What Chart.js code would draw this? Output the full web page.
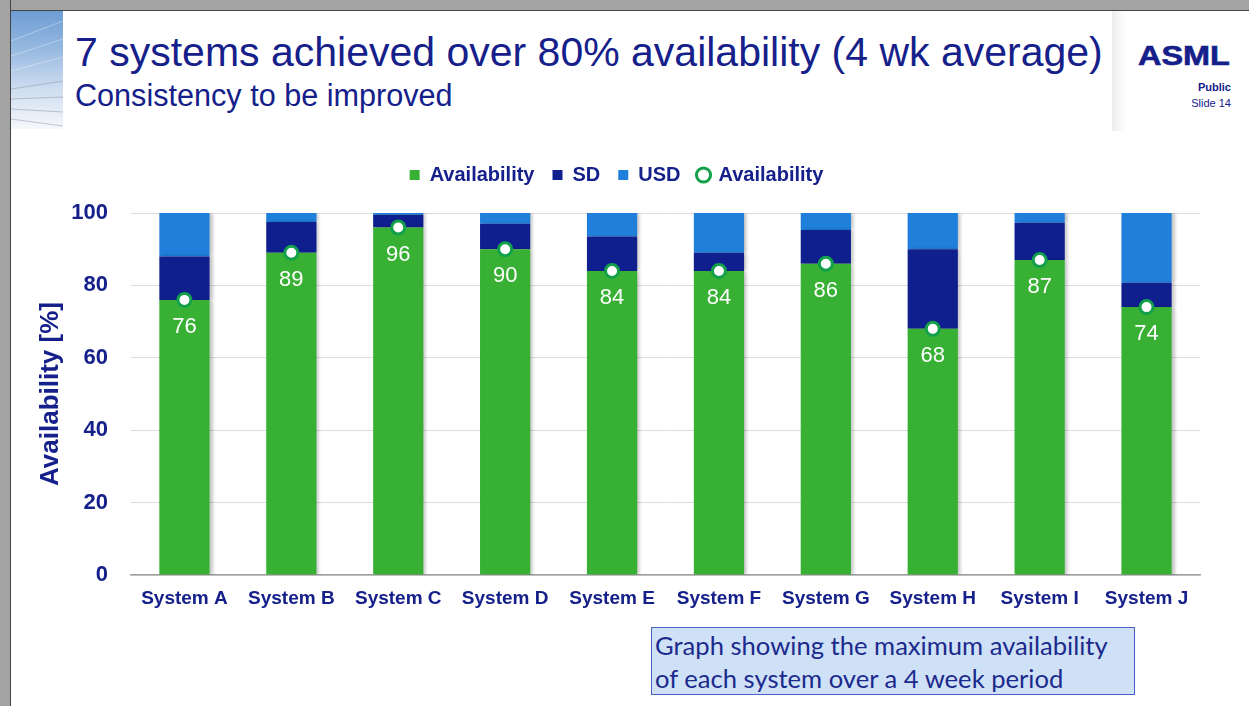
<!DOCTYPE html>
<html>
<head>
<meta charset="utf-8">
<script src="https://cdn.jsdelivr.net/npm/chart.js@4"></script>
<style>
  html, body { margin: 0; padding: 0; background: #fff; }
  body { width: 1249px; height: 706px; position: relative; overflow: hidden; font-family: "Liberation Sans", Arial, sans-serif; }
  #frameTop { position: absolute; left: 0; top: 0; width: 1249px; height: 10px; background: #a3a3a3; border-bottom: 1px solid #444; }
  #frameLeft { position: absolute; left: 0; top: 0; width: 10px; height: 706px; background: #a3a3a3; border-right: 1px solid #444; }
  #deco { position: absolute; left: 11px; top: 11px; width: 52px; height: 118px;
    background: linear-gradient(to bottom, #6e9dd3 0%, #93b7e0 30%, #cddcef 65%, #f6f8fb 100%); }
  #shade { position: absolute; left: 1112px; top: 11px; width: 14px; height: 120px;
    background: linear-gradient(to right, rgba(0,0,0,0.07), rgba(0,0,0,0)); }
  .title { position: absolute; left: 75px; color: #15208a; white-space: nowrap; line-height: 1; }
  #t1 { top: 32px; font-size: 41px; }
  #t2 { top: 80px; font-size: 30.6px; }
  #logo { position: absolute; left: 1138px; top: 43px; font-size: 27px; font-weight: bold; color: #15208a;
    line-height: 1; transform: scaleX(1.2); transform-origin: left top; -webkit-text-stroke: 0.6px #15208a; }
  .tag { position: absolute; right: 18px; font-size: 11px; color: #15208a; line-height: 1; }
  #pub { top: 82px; font-weight: bold; }
  #slide { top: 98px; }
  #wrap { position: absolute; left: 11px; top: 144px; width: 1238px; height: 476px; }
  #note { position: absolute; left: 651px; top: 627px; width: 479px; height: 65px;
    background: #cfe1f7; border: 1.5px solid #4a62c2; color: #1b2a8c;
    font-family: Lato, "Noto Sans", sans-serif; font-size: 25.6px; line-height: 33px; padding: 1px 0 0 3px; white-space: nowrap; }
</style>
</head>
<body>
<div id="frameTop"></div>
<div id="frameLeft"></div>
<div id="deco">
  <svg width="52" height="118">
    <g stroke="#ffffff" stroke-opacity="0.35" stroke-width="1" fill="none">
      <path d="M0 30 L52 10"/><path d="M0 45 L52 28"/><path d="M0 60 L52 46"/>
    </g>
    <g stroke="#8a96a8" stroke-opacity="0.5" stroke-width="1" fill="none">
      <path d="M0 78 L52 70"/><path d="M0 88 L52 86"/><path d="M0 98 L52 101"/><path d="M0 108 L52 115"/>
    </g>
  </svg>
</div>
<div id="shade"></div>
<div class="title" id="t1">7 systems achieved over 80% availability (4 wk average)</div>
<div class="title" id="t2">Consistency to be improved</div>
<div id="logo">ASML</div>
<div class="tag" id="pub">Public</div>
<div class="tag" id="slide">Slide 14</div>
<div id="wrap"><canvas id="chart"></canvas></div>
<div id="note">Graph showing the maximum availability<br>of each system over a 4 week period</div>

<script>
const systems = ["System A", "System B", "System C", "System D", "System E",
                 "System F", "System G", "System H", "System I", "System J"];
const availability = [76, 89, 96, 90, 84, 84, 86, 68, 87, 74];
const sd = [12, 8.5, 3.5, 7, 9.5, 5, 9.3, 22, 10.3, 6.7];
const usd = [12, 2.5, 0.5, 3, 6.5, 11, 4.7, 10, 2.7, 19.3];
const yTicks = [0, 20, 40, 60, 80, 100];

const navy = "#15208a";
const legendStyles = ["rect", "rect", "rect", "circle"];

// soft shadow on the right side of the bars
const barShadow = {
  id: "barShadow",
  beforeDatasetDraw(chart, args) {
    if (args.meta.type !== "bar") return;
    const ctx = chart.ctx;
    ctx.save();
    ctx.shadowColor = "rgba(0,0,0,0.22)";
    ctx.shadowOffsetX = 3;
    ctx.shadowBlur = 3;
  },
  afterDatasetDraw(chart, args) {
    if (args.meta.type === "bar") chart.ctx.restore();
  }
};

// white value labels under the markers
const valueLabels = {
  id: "valueLabels",
  afterDatasetsDraw(chart) {
    const ctx = chart.ctx;
    const meta = chart.getDatasetMeta(3);
    ctx.save();
    ctx.fillStyle = "#ffffff";
    ctx.font = "22px 'Liberation Sans', Arial, sans-serif";
    ctx.textAlign = "center";
    ctx.textBaseline = "middle";
    meta.data.forEach((pt, i) => {
      ctx.fillText(String(availability[i]), pt.x, pt.y + 27);
    });
    ctx.restore();
  }
};

// fixed legend height, legend nudged a little
const legendTweak = {
  id: "legendTweak",
  beforeInit(chart) {
    const lg = chart.legend;
    const fit = lg.fit;
    lg.fit = function () {
      fit.call(lg);
      this.height = 69;
    };
    const draw = lg.draw;
    lg.draw = function () {
      chart.ctx.save();
      chart.ctx.translate(11, 3);
      draw.call(lg);
      chart.ctx.restore();
    };
  }
};

new Chart(document.getElementById("chart"), {
  type: "bar",
  data: {
    labels: systems,
    datasets: [
      { label: "Availability", data: availability, backgroundColor: "#37b034", order: 1 },
      { label: "SD", data: sd, backgroundColor: "#0f1f8e", order: 1 },
      { label: "USD", data: usd, backgroundColor: "#1f7fda", order: 1 },
      { label: "Availability", type: "line", data: availability, showLine: false, order: -1,
        pointRadius: 6.5, pointHoverRadius: 6.5, pointBorderWidth: 3,
        pointBackgroundColor: "#ffffff", pointBorderColor: "#12a04a",
        backgroundColor: "#ffffff", borderColor: "#12a04a" }
    ]
  },
  options: {
    responsive: true,
    maintainAspectRatio: false,
    animation: false,
    layout: { padding: { left: 0, right: 49, top: 0, bottom: 0 } },
    datasets: { bar: { barPercentage: 0.47, categoryPercentage: 1 } },
    plugins: {
      tooltip: { enabled: false },
      legend: {
        position: "top",
        labels: {
          usePointStyle: true,
          boxWidth: 10,
          boxHeight: 10,
          padding: 18,
          color: navy,
          font: { family: "'Liberation Sans', Arial, sans-serif", size: 20, weight: "bold" },
          sort: (a, b) => a.datasetIndex - b.datasetIndex,
          generateLabels(chart) {
            const items = Chart.defaults.plugins.legend.labels.generateLabels(chart);
            items.forEach(it => { it.pointStyle = legendStyles[it.datasetIndex]; });
            return items;
          }
        }
      }
    },
    scales: {
      x: {
        stacked: true,
        grid: { display: false, drawTicks: false },
        border: { display: true, color: "#a0a0a0", width: 1.5 },
        ticks: {
          color: navy, padding: 12, maxRotation: 0,
          font: { family: "'Liberation Sans', Arial, sans-serif", size: 19, weight: "bold" }
        },
        afterFit(scale) { scale.height = 45; }
      },
      y: {
        stacked: true,
        min: 0,
        max: 100,
        afterBuildTicks(scale) { scale.ticks = yTicks.map(v => ({ value: v })); },
        grid: { color: "#dcdcdc", drawTicks: false },
        border: { display: false },
        ticks: {
          color: navy, padding: 23,
          font: { family: "'Liberation Sans', Arial, sans-serif", size: 22, weight: "bold" }
        },
        title: {
          display: true,
          text: "Availability [%]",
          color: navy,
          padding: { top: 24, bottom: 0 },
          font: { family: "'Liberation Sans', Arial, sans-serif", size: 26, weight: "bold" }
        },
        afterFit(scale) { scale.width = 120; }
      }
    }
  },
  plugins: [barShadow, valueLabels, legendTweak]
});
</script>
</body>
</html>
